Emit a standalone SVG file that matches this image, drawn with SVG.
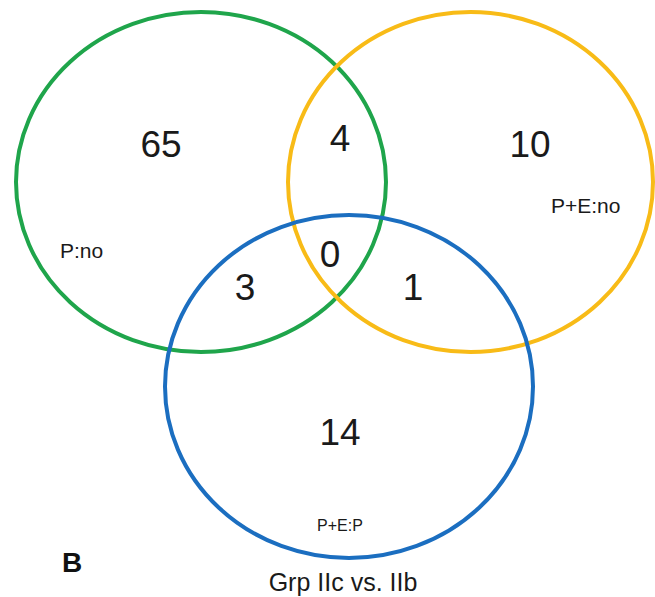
<svg xmlns="http://www.w3.org/2000/svg" width="655" height="597" viewBox="0 0 655 597">
<style>
.c{fill:none;stroke-width:4}
.n{font-family:"Liberation Sans",Arial,sans-serif;font-size:37px;fill:#1a1a1a;text-anchor:middle}
.s{font-family:"Liberation Sans",Arial,sans-serif;font-size:21px;fill:#1a1a1a}
</style>
<rect width="655" height="597" fill="#ffffff"/>
<g id="green">
<ellipse class="c" cx="201" cy="182" rx="185" ry="170" stroke="#1fa54b"/>
</g>
<g id="yellow">
<ellipse class="c" cx="470.5" cy="182" rx="182.5" ry="170" stroke="#f8bb17"/>
</g>
<g id="blue">
<ellipse class="c" cx="349" cy="386.5" rx="184" ry="171.5" stroke="#1b6ec0"/>
</g>
<g id="labels">
<text class="n" x="161" y="157">65</text>
<text class="n" x="340" y="151">4</text>
<text class="n" x="530" y="157">10</text>
<text class="n" x="330" y="267">0</text>
<text class="n" x="245" y="300">3</text>
<text class="n" x="413" y="300">1</text>
<text class="n" x="340" y="445">14</text>
<text class="s" x="60" y="258">P:no</text>
<text class="s" x="551" y="213">P+E:no</text>
<text class="s" x="340" y="531" text-anchor="middle" style="font-size:16px">P+E:P</text>
<text x="72" y="572" text-anchor="middle" style="font-family:'Liberation Sans',Arial,sans-serif;font-size:28px;font-weight:bold;fill:#111">B</text>
<text x="343" y="591" text-anchor="middle" style="font-family:'Liberation Sans',Arial,sans-serif;font-size:25px;fill:#1a1a1a">Grp IIc vs. IIb</text>
</g>
</svg>
